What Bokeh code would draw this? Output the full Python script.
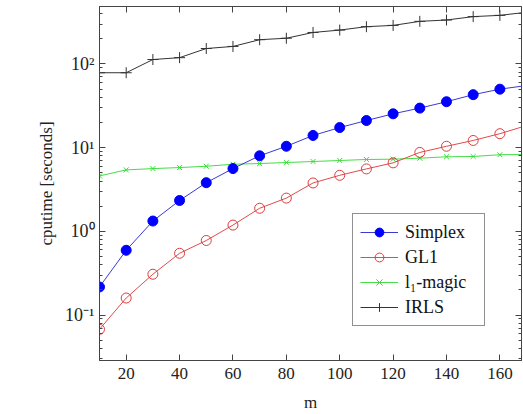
from bokeh.plotting import figure
from bokeh.models import (Range1d, FixedTicker, LogAxis, LinearAxis, Legend, LegendItem,
                          CustomJSTickFormatter)
from bokeh.embed import file_html
from bokeh.resources import INLINE

m = [10, 20, 30, 40, 50, 60, 70, 80, 90, 100, 110, 120, 130, 140, 150, 160, 170]
simplex = [0.217, 0.595, 1.33, 2.34, 3.82, 5.63, 8.0, 10.4, 14.0, 17.4, 21.1, 25.4, 29.7, 35.4, 43.0, 50.0, 55.3]
gl1 = [0.0678, 0.160, 0.308, 0.548, 0.779, 1.19, 1.89, 2.50, 3.79, 4.68, 5.58, 6.59, 8.78, 10.4, 12.2, 14.7, 18.4]
l1magic = [4.6, 5.43, 5.63, 5.79, 6.0, 6.34, 6.47, 6.65, 6.84, 7.03, 7.23, 7.29, 7.49, 7.79, 7.85, 8.24, 8.3]
irls = [78.6, 78.6, 113, 119, 153, 162, 195, 203, 238, 254, 279, 289, 323, 335, 368, 381, 415]

x_ticks = [20, 40, 60, 80, 100, 120, 140, 160]
y_major = [0.1, 1, 10, 100]
y_minor = [0.03, 0.04, 0.05, 0.06, 0.07, 0.08, 0.09,
           0.2, 0.3, 0.4, 0.5, 0.6, 0.7, 0.8, 0.9,
           2, 3, 4, 5, 6, 7, 8, 9,
           20, 30, 40, 50, 60, 70, 80, 90,
           200, 300, 400, 500]

FONT = "Liberation Serif"
FRAME = "#444444"

p = figure(width=523, height=414, y_axis_type="log",
           x_range=Range1d(10, 168.1), y_range=Range1d(0.0287, 486),
           output_backend="svg", toolbar_location=None,
           min_border_left=99, min_border_right=2, min_border_top=6, min_border_bottom=54)
p.background_fill_color = "white"
p.border_fill_color = "white"
p.outline_line_color = FRAME
p.grid.visible = False

sup = CustomJSTickFormatter(code="""
const e = Math.round(Math.log10(tick));
const s = {"-":"\u207b","0":"\u2070","1":"\u00b9","2":"\u00b2","3":"\u00b3"};
return "10" + String(e).split("").map(c => s[c]).join("");
""")

xa = p.xaxis[0]
xa.ticker = FixedTicker(ticks=x_ticks)
ya = p.yaxis[0]
ya.ticker = FixedTicker(ticks=y_major, minor_ticks=y_minor)
ya.formatter = sup

for ax in (xa, ya):
    ax.axis_line_color = FRAME
    ax.major_tick_line_color = FRAME
    ax.minor_tick_line_color = FRAME
    ax.major_tick_in = 6
    ax.major_tick_out = 0
    ax.minor_tick_in = 3
    ax.minor_tick_out = 0
    ax.major_label_text_font = FONT
    ax.major_label_text_font_size = "17px"
    ax.major_label_text_color = "#222222"
    ax.axis_label_text_font = FONT
    ax.axis_label_text_font_size = "17px"
    ax.axis_label_text_font_style = "normal"
    ax.axis_label_text_color = "#222222"

ya.major_label_text_font_size = "18px"
xa.axis_label = "m"
xa.major_label_standoff = 7
xa.axis_label_standoff = 11
ya.axis_label = "cputime [seconds]"
ya.major_label_standoff = 5
ya.axis_label_standoff = 6

blank = CustomJSTickFormatter(code='return "";')
top = LinearAxis(ticker=FixedTicker(ticks=x_ticks), formatter=blank)
right = LogAxis(ticker=FixedTicker(ticks=y_major, minor_ticks=y_minor), formatter=blank)
for ax in (top, right):
    ax.axis_line_color = FRAME
    ax.major_tick_line_color = FRAME
    ax.minor_tick_line_color = FRAME
    ax.major_tick_in = 6
    ax.major_tick_out = 0
    ax.minor_tick_in = 3
    ax.minor_tick_out = 0
    ax.major_label_standoff = 0
p.add_layout(top, "above")
p.add_layout(right, "right")

# IRLS
l4 = p.line(m, irls, line_color="#333333", line_width=1)
g4 = p.scatter(m, irls, marker="cross", size=11, line_color="#333333", line_width=1)
# l1-magic
l3 = p.line(m, l1magic, line_color="#44dd44", line_width=1)
g3 = p.scatter(m, l1magic, marker="x", size=7, line_color="#33dd33", line_width=1)
# GL1
l2 = p.line(m, gl1, line_color="#e04a4a", line_width=1)
g2 = p.scatter(m, gl1, marker="circle", size=10, line_color="#e03c3c", fill_color=None, line_width=1)
# Simplex
l1 = p.line(m, simplex, line_color="#3a3ad0", line_width=1)
g1 = p.scatter(m, simplex, marker="circle", size=10, line_color="#0000ff", fill_color="#0000ff")

legend = Legend(items=[
    LegendItem(label="Simplex", renderers=[l1, g1]),
    LegendItem(label="GL1", renderers=[l2, g2]),
    LegendItem(label="l\u2081-magic", renderers=[l3, g3]),
    LegendItem(label="IRLS", renderers=[l4, g4]),
], location=(253, 34))
legend.label_text_font = FONT
legend.label_text_font_size = "18px"
legend.label_text_color = "#111111"
legend.glyph_width = 38
legend.glyph_height = 22
legend.label_height = 22
legend.label_width = 72
legend.spacing = 3
legend.padding = 7
legend.margin = 0
legend.label_standoff = 7
legend.border_line_color = "#222222"
legend.border_line_width = 1
legend.background_fill_color = "white"
legend.background_fill_alpha = 1
p.add_layout(legend)

open("out.html", "w").write(file_html(p, INLINE))
